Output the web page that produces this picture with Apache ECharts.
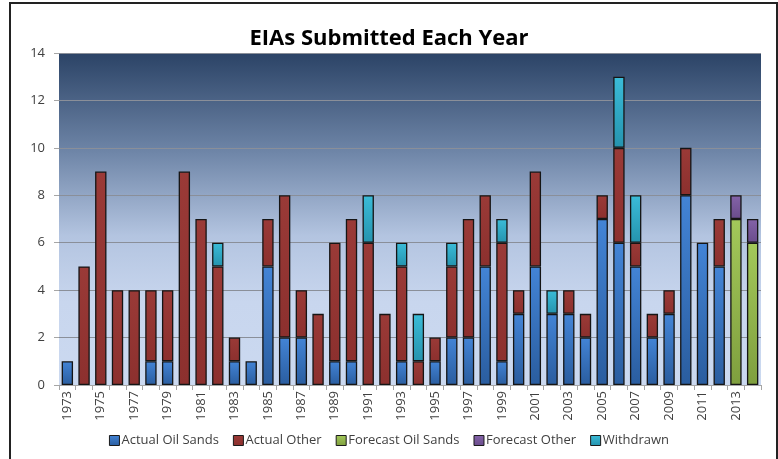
<!DOCTYPE html>
<html>
<head>
<meta charset="utf-8">
<script src="https://cdn.jsdelivr.net/npm/echarts@6/dist/echarts.min.js"></script>
<style>html,body{margin:0;padding:0;background:#fff}#c{width:778px;height:459px}</style>
</head>
<body>
<div id="c"></div>
<script>
var years = ['1973','1974','1975','1976','1977','1978','1979','1980','1981','1982','1983','1984','1985','1986','1987','1988','1989','1990','1991','1992','1993','1994','1995','1996','1997','1998','1999','2000','2001','2002','2003','2004','2005','2006','2007','2008','2009','2010','2011','2012','2013','2014'];
var actualOilSands = [1,null,null,null,null,1,1,null,null,null,1,1,5,2,2,null,1,1,null,null,1,null,1,2,2,5,1,3,5,3,3,2,7,6,5,2,3,8,6,5,null,null];
var actualOther = [null,5,9,4,4,3,3,9,7,5,1,null,2,6,2,3,5,6,6,3,4,1,1,3,5,3,5,1,4,null,1,1,1,4,1,1,1,2,null,2,null,null];
var forecastOilSands = [null,null,null,null,null,null,null,null,null,null,null,null,null,null,null,null,null,null,null,null,null,null,null,null,null,null,null,null,null,null,null,null,null,null,null,null,null,null,null,null,7,6];
var forecastOther = [null,null,null,null,null,null,null,null,null,null,null,null,null,null,null,null,null,null,null,null,null,null,null,null,null,null,null,null,null,null,null,null,null,null,null,null,null,null,null,null,1,1];
var withdrawn = [null,null,null,null,null,null,null,null,null,1,null,null,null,null,null,null,null,null,2,null,1,2,null,1,null,null,1,null,null,1,null,null,null,3,2,null,null,null,null,null,null,null];
var yTicks = [0,2,4,6,8,10,12,14];

function grad(top, bottom){
  return new echarts.graphic.LinearGradient(0,0,0,1,[{offset:0,color:top},{offset:1,color:bottom}]);
}
function ser(name, data, c1, c2){
  return {name:name,type:'bar',stack:'t',data:data,barCategoryGap:'32%',
    itemStyle:{color:grad(c1,c2),borderColor:'#151515',borderWidth:1.3},
    emphasis:{disabled:true}};
}
var chart = echarts.init(document.getElementById('c'));
chart.setOption({
  animation:false,
  title:{text:'EIAs Submitted Each Year',left:'center',top:23,
    textStyle:{fontFamily:'Open Sans',fontWeight:'bold',fontSize:22,color:'#000'}},
  graphic:[{type:'rect',shape:{x:10,y:3,width:767,height:470},
    style:{fill:'none',stroke:'#222',lineWidth:2},silent:true,z:-1}],
  grid:{left:59,right:17,top:53,bottom:74,show:true,borderWidth:0,
    backgroundColor:new echarts.graphic.LinearGradient(0,0,0,1,[
      {offset:0,color:'#2b4366'},{offset:0.3,color:'#6f86a8'},{offset:0.55,color:'#b3c4e0'},{offset:0.75,color:'#c8d6ee'},{offset:1,color:'#cbd9f0'}])},
  legend:{bottom:7,left:'center',itemWidth:10,itemHeight:10,itemGap:14,
    icon:'rect',
    itemStyle:{borderColor:'#1a1a1a',borderWidth:1},
    textStyle:{fontFamily:'Open Sans',fontSize:13,color:'#404040',padding:[0,0,0,-3]},
    data:['Actual Oil Sands','Actual Other','Forecast Oil Sands','Forecast Other','Withdrawn']},
  xAxis:{type:'category',data:years,
    axisLine:{lineStyle:{color:'#a6a6a6'}},
    axisTick:{show:true,interval:0,length:5,lineStyle:{color:'#a6a6a6'}},
    axisLabel:{rotate:90,interval:1,fontFamily:'Open Sans',fontSize:13,color:'#404040',margin:6}},
  yAxis:{type:'value',min:yTicks[0],max:yTicks[yTicks.length-1],interval:2,
    axisLine:{show:false},
    axisTick:{show:true,length:5,lineStyle:{color:'#a6a6a6'}},
    splitLine:{lineStyle:{color:'#8a8f99',width:1}},
    axisLabel:{fontFamily:'Open Sans',fontSize:13,color:'#404040',margin:14}},
  series:[
    ser('Actual Oil Sands',actualOilSands,'#4384d6','#2a5d9f'),
    ser('Actual Other',actualOther,'#9a3a37','#8c302e'),
    ser('Forecast Oil Sands',forecastOilSands,'#a3c85a','#7f9f3e'),
    ser('Forecast Other',forecastOther,'#8463a8','#6a4c8c'),
    ser('Withdrawn',withdrawn,'#3bbcd8','#2593ae')
  ]
});
</script>
</body>
</html>
